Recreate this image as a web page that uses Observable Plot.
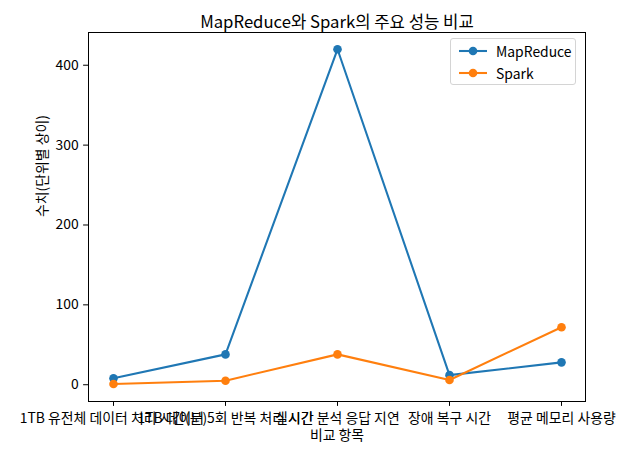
<!DOCTYPE html>
<html><head><meta charset="utf-8">
<script src="https://cdn.jsdelivr.net/npm/d3@7"></script>
<script src="https://cdn.jsdelivr.net/npm/@observablehq/plot@0.6"></script>
<style>
body{margin:0;background:#fff;}
#wrap{position:relative;width:624px;height:456px;font-family:"Noto Sans CJK KR","Noto Sans",sans-serif;}
.legend{position:absolute;left:450px;top:38px;width:126px;height:47px;box-sizing:border-box;border:1px solid #d4d4d4;border-radius:3px;background:rgba(255,255,255,0.8);font-size:13.9px;color:#000;}
.item{position:absolute;left:0;height:20px;display:flex;align-items:center;}
.item svg{margin-left:8px;margin-right:9px;}
</style></head>
<body>
<div id="wrap"></div>
<script>
const categories = ["1TB 유전체 데이터 처리 시간(분)", "1TB 데이터 5회 반복 처리 시간", "실시간 분석 응답 지연", "장애 복구 시간", "평균 메모리 사용량"];
const mapreduce = [8, 38, 420, 12, 28];
const spark = [1, 5, 38, 6, 72];
const seriesNames = ["MapReduce", "Spark"];
const colors = ["#1f77b4", "#ff7f0e"];
const yTicks = [0, 100, 200, 300, 400];
const title = "MapReduce와 Spark의 주요 성능 비교";
const xLabel = "비교 항목";
const yLabel = "수치(단위별 상이)";

const seriesValues = [mapreduce, spark];
const rows = seriesNames.flatMap((s, k) => categories.map((c, i) => ({cat: c, series: s, value: seriesValues[k][i]})));

const marks = [
  Plot.axisX({tickSize: 4.9, tickPadding: 6.5, label: null, fontSize: 13.9}),
  Plot.axisY({ticks: yTicks, tickSize: 4.9, tickPadding: 4.9, label: null, fontSize: 13.9, tickFormat: d => String(d)}),
];
seriesNames.forEach(s => {
  const data = rows.filter(r => r.series === s);
  marks.push(Plot.line(data, {x: "cat", y: "value", stroke: "series", strokeWidth: 2.08}));
  marks.push(Plot.dot(data, {x: "cat", y: "value", fill: "series", r: 4.3}));
});
marks.push(
  Plot.frame({stroke: "#000", strokeWidth: 1}),
  Plot.text([title], {text: d => d, frameAnchor: "top", dy: -16, fontSize: 16.7}),
  Plot.text([xLabel], {text: d => d, frameAnchor: "bottom", dy: 38, fontSize: 13.9}),
  Plot.text([yLabel], {text: d => d, frameAnchor: "left", dx: -46, rotate: -90, fontSize: 13.9})
);

const chart = Plot.plot({
  width: 624, height: 456,
  marginLeft: 88, marginRight: 39, marginTop: 32, marginBottom: 55,
  style: {fontFamily: '"Noto Sans CJK KR","Noto Sans",sans-serif', fontSize: "13.9px", color: "#000", background: "#fff", overflow: "visible"},
  x: {type: "point", domain: categories, padding: 0.2},
  y: {domain: [-21, 441]},
  color: {domain: seriesNames, range: colors},
  marks
});
const wrap = document.getElementById("wrap");
wrap.appendChild(chart);

const legend = document.createElement("div");
legend.className = "legend";
seriesNames.forEach((s, k) => {
  const it = document.createElement("div");
  it.className = "item";
  it.style.top = (2 + k * 22) + "px";
  it.innerHTML = `<svg width="28" height="12"><line x1="0" x2="28" y1="6" y2="6" stroke="${colors[k]}" stroke-width="2.08"/><circle cx="14" cy="6" r="4.3" fill="${colors[k]}"/></svg><span>${s}</span>`;
  legend.appendChild(it);
});
wrap.appendChild(legend);
</script>
</body></html>
